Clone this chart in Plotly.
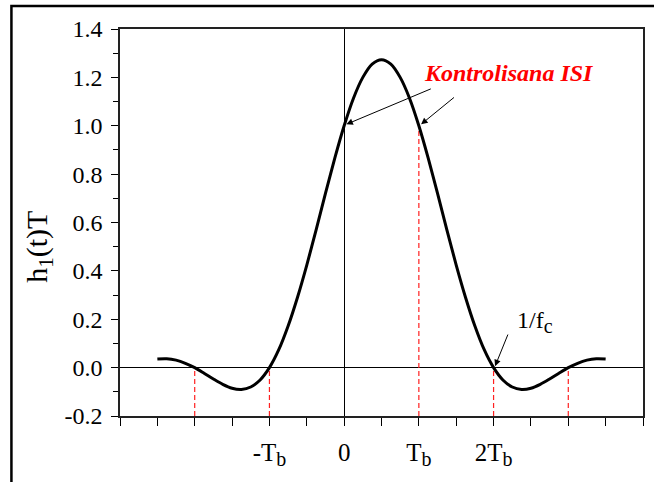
import plotly.graph_objects as go

t_vals = [-2.5, -2.375, -2.25, -2.125, -2.0, -1.875, -1.75, -1.625, -1.5, -1.375, -1.25, -1.125,
          -1.0, -0.875, -0.75, -0.625, -0.5, -0.375, -0.25, -0.125, 0.0, 0.125, 0.25, 0.375,
          0.5, 0.625, 0.75, 0.875, 1.0, 1.125, 1.25, 1.375, 1.5, 1.625, 1.75, 1.875,
          2.0, 2.125, 2.25, 2.375, 2.5, 2.625, 2.75, 2.875, 3.0, 3.125, 3.25, 3.375, 3.5]
h_vals = [0.036, 0.037, 0.031, 0.018, 0.0, -0.023, -0.047, -0.069, -0.085, -0.090, -0.080, -0.051,
          0.0, 0.074, 0.172, 0.290, 0.424, 0.570, 0.720, 0.866, 1.0, 1.114, 1.200, 1.255,
          1.273, 1.255, 1.200, 1.114, 1.0, 0.866, 0.720, 0.570, 0.424, 0.290, 0.172, 0.074,
          0.0, -0.051, -0.080, -0.090, -0.085, -0.069, -0.047, -0.023, 0.0, 0.018, 0.031, 0.037, 0.036]

# red dashed markers: sample instants and their pulse value
mark_t = [-2, -1, 1, 2, 3]
mark_h = [0.0, 0.0, 1.0, 0.0, 0.0]

SUB_B = "<sub><span style='font-size:20px'>b</span></sub>"
x_tickvals = [-3, -2.5, -2, -1.5, -1, -0.5, 0, 0.5, 1, 1.5, 2, 2.5, 3, 3.5, 4]
x_ticktext = ["", "", "", "", "-T" + SUB_B, "", "0", "", "T" + SUB_B, "", "2T" + SUB_B, "", "", "", ""]
y_tickvals = [-0.2, 0.0, 0.2, 0.4, 0.6, 0.8, 1.0, 1.2, 1.4]
y_ticktext = ["-0.2", "0.0", "0.2", "0.4", "0.6", "0.8", "1.0", "1.2", "1.4"]

FONT = "Liberation Serif"

fig = go.Figure()

dx, dy = [], []
for t, h in zip(mark_t, mark_h):
    dx += [t, t, None]
    dy += [-0.2, h, None]
fig.add_trace(go.Scatter(x=dx, y=dy, mode="lines",
                         line=dict(color="#ff2020", width=1.2, dash="5px,3px"),
                         hoverinfo="skip", showlegend=False))

fig.add_trace(go.Scatter(x=t_vals, y=h_vals, mode="lines",
                         line=dict(color="black", width=3, shape="spline", smoothing=0.8),
                         showlegend=False))

annotations = [
    dict(x=2.2, y=1.217, xref="x", yref="y", text="<b><i>Kontrolisana ISI</i></b>",
         showarrow=False, font=dict(family=FONT, size=24, color="#ff0000")),
    dict(x=0.03, y=1.006, ax=1.18, ay=1.155, xref="x", yref="y", axref="x", ayref="y",
         text="", showarrow=True, arrowhead=2, arrowsize=1.3, arrowwidth=1, arrowcolor="black"),
    dict(x=1.03, y=1.006, ax=1.49, ay=1.122, xref="x", yref="y", axref="x", ayref="y",
         text="", showarrow=True, arrowhead=2, arrowsize=1.3, arrowwidth=1, arrowcolor="black"),
    dict(x=2.02, y=0.006, ax=2.2, ay=0.143, xref="x", yref="y", axref="x", ayref="y",
         text="", showarrow=True, arrowhead=2, arrowsize=1.3, arrowwidth=1, arrowcolor="black"),
    dict(x=2.55, y=0.19, xref="x", yref="y", text="1/f<sub><span style='font-size:20px'>c</span></sub>",
         showarrow=False, font=dict(family=FONT, size=24, color="black")),
    dict(x=-0.155, y=0.437, xref="paper", yref="paper", xanchor="center", yanchor="middle",
         text="h<sub>1</sub>(t)T", textangle=-90, showarrow=False,
         font=dict(family=FONT, size=30, color="black")),
]

fig.update_layout(
    width=654, height=482,
    margin=dict(l=120, r=9, t=29, b=66),
    paper_bgcolor="white", plot_bgcolor="white",
    font=dict(family=FONT, color="black"),
    annotations=annotations,
    shapes=[dict(type="path", xref="paper", yref="paper",
                 path="M -0.2076,-0.25 L -0.2076,1.0594 L 1.05,1.0594",
                 line=dict(color="black", width=2.5))],
)

fig.update_xaxes(range=[-3, 4], tickmode="array", tickvals=x_tickvals, ticktext=x_ticktext,
                 ticks="outside", ticklen=8, tickwidth=1, tickcolor="black",
                 showline=True, linecolor="#222", linewidth=1.5, mirror=True,
                 showgrid=False, zeroline=True, zerolinecolor="black", zerolinewidth=1,
                 tickfont=dict(family=FONT, size=25), ticklabelstandoff=5)
fig.update_yaxes(range=[-0.2, 1.4], tickmode="array", tickvals=y_tickvals, ticktext=y_ticktext,
                 ticks="outside", ticklen=7, tickwidth=1, tickcolor="black",
                 minor=dict(tickvals=[-0.1, 0.1, 0.3, 0.5, 0.7, 0.9, 1.1, 1.3], ticks="outside",
                            ticklen=5, tickwidth=1, tickcolor="black"),
                 showline=True, linecolor="#222", linewidth=1.5, mirror=True,
                 showgrid=False, zeroline=True, zerolinecolor="black", zerolinewidth=1,
                 tickfont=dict(family=FONT, size=24), ticklabelstandoff=4)

fig.write_html("out.html")
